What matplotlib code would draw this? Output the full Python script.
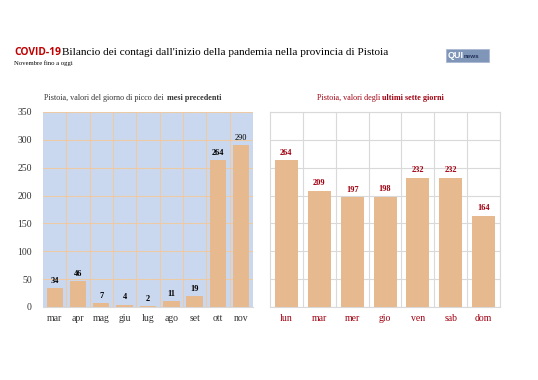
import matplotlib.pyplot as plt
from matplotlib.patches import Rectangle

mesi = ["mar", "apr", "mag", "giu", "lug", "ago", "set", "ott", "nov"]
picchi = [34, 46, 7, 4, 2, 11, 19, 264, 290]

giorni = ["lun", "mar", "mer", "gio", "ven", "sab", "dom"]
ultimi = [264, 209, 197, 198, 232, 232, 164]

yticks = [0, 50, 100, 150, 200, 250, 300, 350]

bar_col = "#e6b98f"
red = "#c00000"
dark_red = "#a00010"
serif = "Liberation Serif"

W, H = 538, 380
fig = plt.figure(figsize=(5.38, 3.8), dpi=100)
fig.patch.set_facecolor("white")

def fx(x):
    return x / W

def fy(y):
    return 1 - y / H

# titolo
fig.text(fx(14), fy(55), "COVID-19", color=red, fontsize=7.4, fontweight="bold",
         family="Open Sans", va="baseline")
fig.text(fx(62), fy(55), "Bilancio dei contagi dall'inizio della pandemia nella provincia di Pistoia",
         fontsize=8.1, family=serif, va="baseline")
fig.text(fx(14), fy(65), "Novembre fino a oggi", fontsize=4.8, family=serif, va="baseline")

# logo
fig.patches.append(Rectangle((fx(446), fy(62)), fx(43), 13 / H, transform=fig.transFigure,
                             fc="#8096b9", ec="#a9b7d2", lw=0.6))
fig.text(fx(448), fy(55.5), "QUI", fontsize=6.5, color="white", fontweight="bold",
         family="Liberation Sans", va="center")
fig.text(fx(464), fy(56), "news", fontsize=4.5, color="#1f2f55", fontweight="bold",
         family="Liberation Sans", va="center")

# pannello sinistro
ax1 = fig.add_axes([fx(43), fy(307), fx(210), 195 / H])
ax1.set_facecolor("#cad8ef")
ax1.bar(mesi, picchi, width=0.7, color=bar_col, zorder=3)
for i, v in enumerate(picchi):
    ax1.text(i, v + 6, str(v), ha="center", va="bottom", fontsize=6, family=serif,
             fontweight="bold" if v != 290 else "normal", zorder=4)
ax1.set_ylim(0, 350)
ax1.set_xlim(-0.5, len(mesi) - 0.5)
ax1.set_yticks(yticks)
ax1.set_xticks(range(len(mesi)))
ax1.set_xticks([x + 0.5 for x in range(len(mesi))], minor=True)
ax1.grid(axis="y", color="#eec9a6", lw=0.8, zorder=1)
ax1.grid(axis="x", which="minor", color="#eec9a6", lw=0.8, zorder=1)
ax1.tick_params(axis="both", which="both", length=0, labelsize=7, colors="#333333")
ax1.tick_params(axis="x", pad=5)
ax1.tick_params(axis="y", pad=8)
for lbl in ax1.get_xticklabels() + ax1.get_yticklabels():
    lbl.set_family(serif)
for s in ax1.spines.values():
    s.set_visible(False)
ax1.spines["bottom"].set_visible(True)
ax1.spines["bottom"].set_color("#d9d9d9")
fig.text(fx(44), fy(98), "Pistoia, valori del giorno di picco dei ", fontsize=5.9, family=serif,
         ha="left", va="center", color="#333333")
fig.text(fx(167), fy(98), "mesi precedenti", fontsize=5.9, family=serif, fontweight="bold",
         ha="left", va="center", color="#333333")

# pannello destro
ax2 = fig.add_axes([fx(270), fy(307), fx(230), 195 / H])
ax2.set_facecolor("white")
ax2.bar(giorni, ultimi, width=0.7, color=bar_col, zorder=3)
for i, v in enumerate(ultimi):
    ax2.text(i, v + 6, str(v), ha="center", va="bottom", fontsize=6, family=serif,
             fontweight="bold", color=dark_red, zorder=4)
ax2.set_ylim(0, 350)
ax2.set_xlim(-0.5, len(giorni) - 0.5)
ax2.set_yticks(yticks)
ax2.set_yticklabels([])
ax2.set_xticks(range(len(giorni)))
ax2.set_xticks([x + 0.5 for x in range(len(giorni))], minor=True)
ax2.grid(axis="y", color="#d9d9d9", lw=0.8, zorder=1)
ax2.grid(axis="x", which="minor", color="#d9d9d9", lw=0.8, zorder=1)
ax2.tick_params(axis="both", which="both", length=0, labelsize=7, colors=dark_red)
ax2.tick_params(axis="x", pad=5)
for lbl in ax2.get_xticklabels():
    lbl.set_family(serif)
for s in ax2.spines.values():
    s.set_color("#d9d9d9")
fig.text(fx(317), fy(98), "Pistoia, valori degli ", fontsize=5.9, family=serif,
         ha="left", va="center", color=dark_red)
fig.text(fx(382), fy(98), "ultimi sette giorni", fontsize=5.9, family=serif, fontweight="bold",
         ha="left", va="center", color=dark_red)

fig.savefig("out.png", dpi=100)
